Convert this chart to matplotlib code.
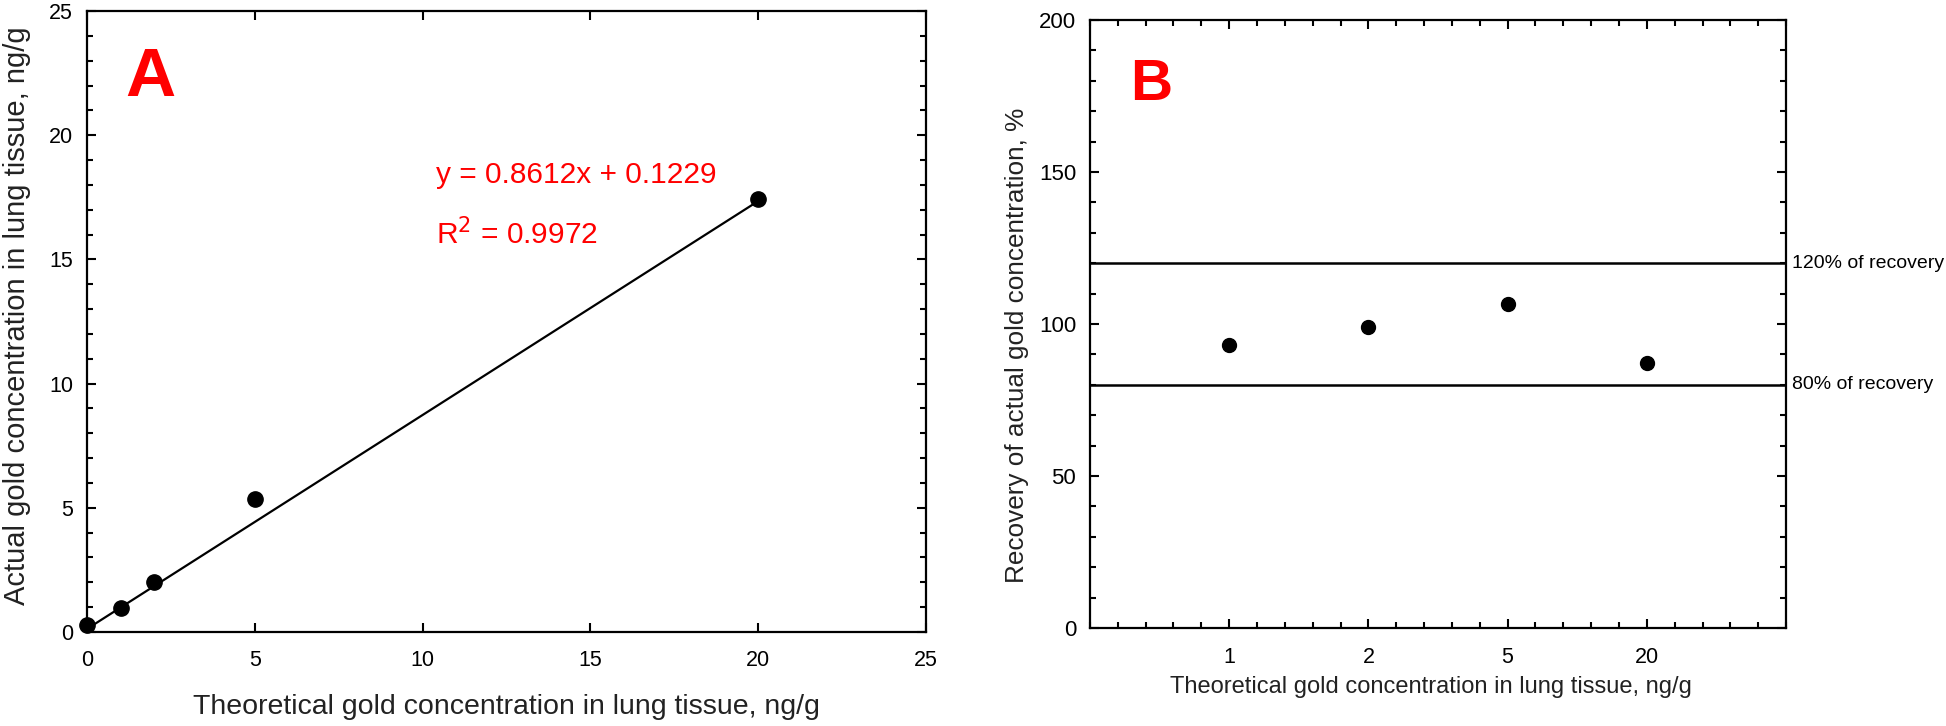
import matplotlib
matplotlib.use("Agg")
import matplotlib.pyplot as plt
from matplotlib.ticker import MultipleLocator, NullLocator

plt.rcParams["font.family"] = ["Liberation Sans", "DejaVu Sans"]

# Panel A: theoretical vs actual concentration
theoretical = [0, 1, 2, 5, 20]
actual = [0.28, 0.96, 2.0, 5.35, 17.45]
slope = 0.8612
intercept = 0.1229
r_squared = 0.9972

# Panel B: recovery per spiking level
levels = ["1", "2", "5", "20"]
recovery = [93.1, 99.0, 106.6, 87.2]
limits = [120, 80]
limit_labels = ["120% of recovery", "80% of recovery"]

fig = plt.figure(figsize=(19.46, 7.26), dpi=100)

# ---------- A ----------
ax = fig.add_axes([0.0447, 0.1295, 0.4311, 0.8553])
fit_x = [theoretical[0], theoretical[-1]]
fit_y = [slope * x + intercept for x in fit_x]
ax.plot(fit_x, fit_y, color="black", lw=1.6, zorder=2)
ax.plot(theoretical, actual, "o", color="black", ms=11, zorder=3, clip_on=False)
ax.set_xlim(0, 25)
ax.set_ylim(0, 25)
ax.xaxis.set_major_locator(MultipleLocator(5))
ax.xaxis.set_minor_locator(NullLocator())
ax.yaxis.set_major_locator(MultipleLocator(5))
ax.yaxis.set_minor_locator(MultipleLocator(1))
ax.tick_params(which="both", direction="in", top=True, right=True, width=1.5,
               labelsize=15.5, colors="black")
ax.tick_params(which="major", length=6.5)
ax.tick_params(which="minor", length=4)
ax.tick_params(axis="x", pad=13)
ax.tick_params(axis="y", pad=10)
for s in ax.spines.values():
    s.set_linewidth(1.6)
ax.set_xlabel("Theoretical gold concentration in lung tissue, ng/g", fontsize=20.5,
              color="#222222")
ax.xaxis.set_label_coords(0.5, -0.121)
ax.xaxis.label.set_va("center")
ax.set_ylabel("Actual gold concentration in lung tissue, ng/g", fontsize=21,
              color="#222222")
ax.yaxis.set_label_coords(-0.083, 0.509)
ax.yaxis.label.set_va("center")
ax.text(1.9, 22.3, "A", color="red", fontsize=50, fontweight="bold",
        ha="center", va="center")
ax.text(10.4, 18.4, f"y = {slope}x + {intercept}", color="red", fontsize=21.5,
        ha="left", va="center")
ax.text(10.4, 16.0, f"R$^2$ = {r_squared}", color="red", fontsize=21.5,
        ha="left", va="center")

# ---------- B ----------
bx = fig.add_axes([0.5601, 0.135, 0.3577, 0.8375])
pos = list(range(1, len(levels) + 1))
for lim in limits:
    bx.axhline(lim, color="black", lw=1.8, zorder=2)
bx.plot(pos, recovery, "o", color="black", ms=10, zorder=3)
bx.set_xlim(0, 5)
bx.set_ylim(0, 200)
bx.set_xticks(pos)
bx.set_xticklabels(levels)
bx.xaxis.set_minor_locator(MultipleLocator(0.2))
bx.yaxis.set_major_locator(MultipleLocator(50))
bx.yaxis.set_minor_locator(MultipleLocator(10))
bx.tick_params(which="both", direction="in", top=True, right=True, width=1.5,
               colors="black")
bx.tick_params(which="major", length=6.5)
bx.tick_params(which="minor", length=4)
bx.tick_params(axis="x", labelsize=15.5, pad=14)
bx.tick_params(axis="y", labelsize=16, pad=10)
for s in bx.spines.values():
    s.set_linewidth(1.6)
for lim, lab in zip(limits, limit_labels):
    bx.text(5.04, lim, lab, fontsize=14, ha="left", va="center", clip_on=False)
bx.set_xlabel("Theoretical gold concentration in lung tissue, ng/g", fontsize=17,
              color="#222222")
bx.xaxis.set_label_coords(0.49, -0.097)
bx.xaxis.label.set_va("center")
bx.set_ylabel("Recovery of actual gold concentration, %", fontsize=18.8,
              color="#222222")
bx.yaxis.set_label_coords(-0.105, 0.464)
bx.yaxis.label.set_va("center")
bx.text(0.44, 178.5, "B", color="red", fontsize=42, fontweight="bold",
        ha="center", va="center")

fig.savefig("out.png", dpi=100)
